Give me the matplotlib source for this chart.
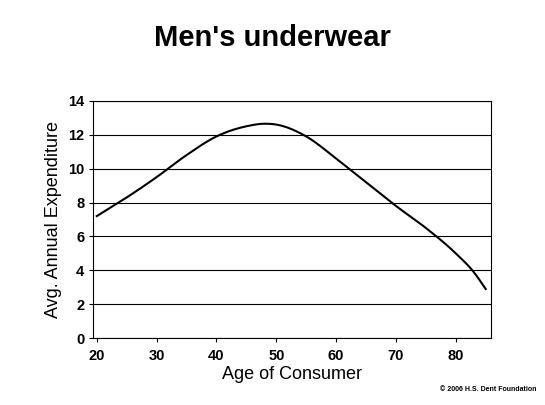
import matplotlib

matplotlib.use("Agg")

import matplotlib.pyplot as plt
import numpy as np

ages = [20, 25, 30, 35, 40, 45, 48, 50, 55, 60, 65, 70, 75, 80, 83, 85]
spend = [7.2, 8.3, 9.5, 10.8, 11.9, 12.5, 12.65, 12.6, 11.9, 10.6, 9.2, 7.8, 6.5, 5.0, 3.9, 2.9]
x_ticks = [20, 30, 40, 50, 60, 70, 80]
y_ticks = [0, 2, 4, 6, 8, 10, 12, 14]


def hermite(x, y, n=20):
    # cubic Hermite through the read-off points with finite-difference slopes
    x = np.asarray(x, float)
    y = np.asarray(y, float)
    m = np.gradient(y, x)
    out_x, out_y = [], []
    for i in range(len(x) - 1):
        h = x[i + 1] - x[i]
        t = np.linspace(0, 1, n, endpoint=False)
        h00 = 2 * t**3 - 3 * t**2 + 1
        h10 = t**3 - 2 * t**2 + t
        h01 = -2 * t**3 + 3 * t**2
        h11 = t**3 - t**2
        out_x.extend(x[i] + t * h)
        out_y.extend(h00 * y[i] + h10 * h * m[i] + h01 * y[i + 1] + h11 * h * m[i + 1])
    out_x.append(x[-1])
    out_y.append(y[-1])
    return out_x, out_y


plt.rcParams["font.family"] = ["Liberation Sans", "DejaVu Sans"]

fig = plt.figure(figsize=(5.45, 4.05), dpi=100)
ax = fig.add_axes([0.171, 0.165, 0.729, 0.586])

xs, ys = hermite(ages, spend)
ax.plot(xs, ys, color="black", lw=1.5)

ax.set_xlim(19.4, 85.8)
ax.set_ylim(0, 14)
ax.set_xticks(x_ticks)
ax.set_yticks(y_ticks)
ax.tick_params(labelsize=10.5, direction="out", length=3)
ax.tick_params(axis="x", pad=5)
for lbl in ax.get_xticklabels() + ax.get_yticklabels():
    lbl.set_fontweight("bold")
ax.grid(axis="y", color="black", lw=0.8)
ax.set_axisbelow(True)
for s in ax.spines.values():
    s.set_linewidth(0.8)

ax.set_xlabel("Age of Consumer", fontsize=13, labelpad=2)
ax.set_ylabel("Avg. Annual Expenditure", fontsize=13)
fig.text(0.5, 0.905, "Men's underwear", ha="center", va="center", fontsize=21, fontweight="bold")
fig.text(0.985, 0.035, "© 2006 H.S. Dent Foundation", ha="right", fontsize=5, fontweight="bold")

fig.savefig("out.png")
